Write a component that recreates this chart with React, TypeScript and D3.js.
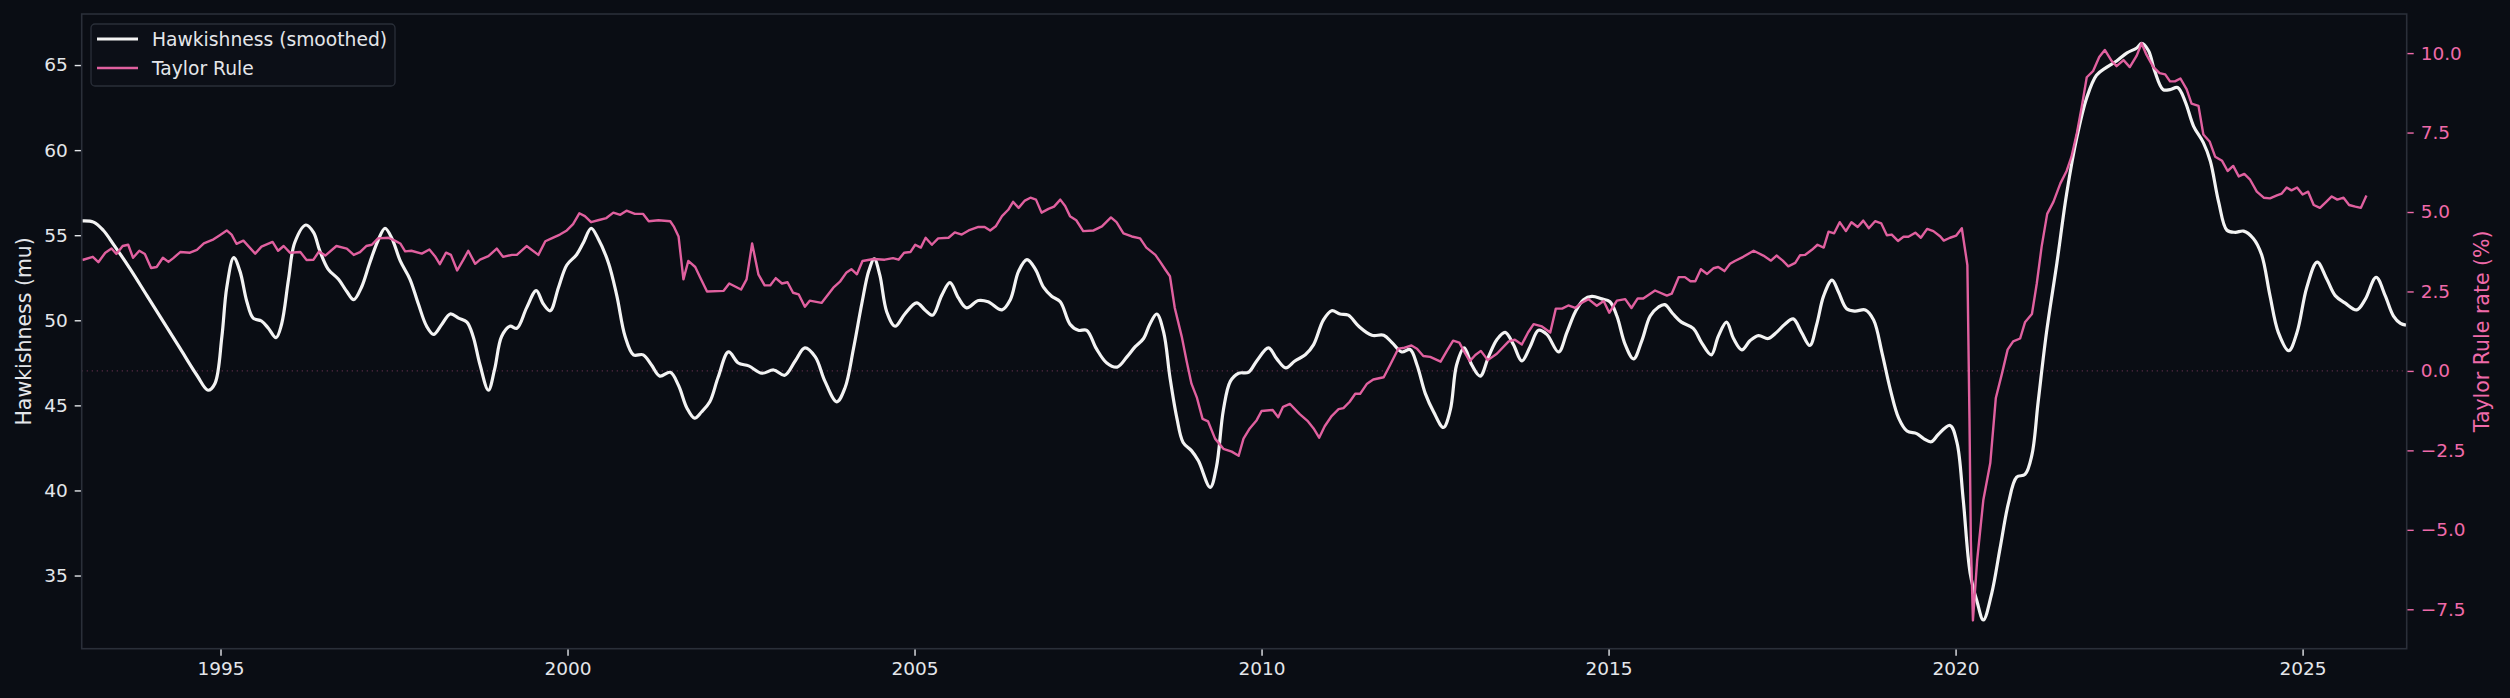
import React, { useRef, useEffect } from 'react';
import * as d3 from 'd3';

// values
const hawkYears = [
    1993.01, 1993.17, 1993.31, 1993.46, 1993.7, 1993.94, 1994.18, 1994.42, 1994.66, 1994.82,
    1994.92, 1995.02, 1995.09, 1995.19, 1995.28, 1995.38, 1995.47, 1995.59, 1995.69, 1995.8,
    1995.88, 1995.98, 1996.07, 1996.23, 1996.34, 1996.43, 1996.55, 1996.7, 1996.82, 1996.92,
    1997.03, 1997.15, 1997.27, 1997.37, 1997.47, 1997.59, 1997.73, 1997.85, 1997.97, 1998.07,
    1998.19, 1998.31, 1998.43, 1998.55, 1998.64, 1998.74, 1998.86, 1998.95, 1999.05, 1999.17,
    1999.27, 1999.41, 1999.55, 1999.65, 1999.75, 1999.87, 1999.99, 2000.13, 2000.23, 2000.34,
    2000.44, 2000.59, 2000.71, 2000.83, 2000.95, 2001.09, 2001.21, 2001.33, 2001.48, 2001.6,
    2001.72, 2001.83, 2001.93, 2002.05, 2002.17, 2002.32, 2002.46, 2002.61, 2002.8, 2002.97,
    2003.13, 2003.28, 2003.42, 2003.57, 2003.71, 2003.88, 2004.0, 2004.12, 2004.24, 2004.34,
    2004.42, 2004.5, 2004.6, 2004.72, 2004.86, 2005.03, 2005.15, 2005.26, 2005.39, 2005.51,
    2005.63, 2005.75, 2005.92, 2006.06, 2006.26, 2006.38, 2006.5, 2006.62, 2006.74, 2006.86,
    2006.98, 2007.1, 2007.24, 2007.36, 2007.48, 2007.62, 2007.77, 2007.92, 2008.06, 2008.18,
    2008.3, 2008.39, 2008.49, 2008.59, 2008.68, 2008.78, 2008.87, 2008.99, 2009.09, 2009.26,
    2009.35, 2009.45, 2009.55, 2009.67, 2009.81, 2009.93, 2010.1, 2010.22, 2010.35, 2010.48,
    2010.63, 2010.75, 2010.89, 2011.01, 2011.13, 2011.25, 2011.4, 2011.59, 2011.76, 2011.88,
    2012.02, 2012.14, 2012.24, 2012.36, 2012.48, 2012.62, 2012.72, 2012.81, 2012.92, 2013.03,
    2013.15, 2013.27, 2013.39, 2013.51, 2013.63, 2013.75, 2013.87, 2013.99, 2014.11, 2014.28,
    2014.4, 2014.52, 2014.64, 2014.76, 2014.9, 2015.02, 2015.12, 2015.24, 2015.36, 2015.48,
    2015.6, 2015.72, 2015.81, 2015.93, 2016.05, 2016.22, 2016.34, 2016.48, 2016.58, 2016.7,
    2016.8, 2016.92, 2017.04, 2017.16, 2017.3, 2017.42, 2017.54, 2017.66, 2017.78, 2017.9,
    2018.0, 2018.1, 2018.22, 2018.31, 2018.43, 2018.55, 2018.7, 2018.82, 2018.94, 2019.06,
    2019.18, 2019.3, 2019.44, 2019.54, 2019.65, 2019.75, 2019.92, 2020.02, 2020.11, 2020.21,
    2020.31, 2020.4, 2020.52, 2020.64, 2020.76, 2020.88, 2021.0, 2021.1, 2021.19, 2021.31,
    2021.46, 2021.6, 2021.75, 2021.89, 2022.03, 2022.18, 2022.32, 2022.47, 2022.61, 2022.68,
    2022.78, 2022.87, 2022.99, 2023.09, 2023.2, 2023.31, 2023.43, 2023.57, 2023.67, 2023.79,
    2023.91, 2024.03, 2024.15, 2024.29, 2024.41, 2024.53, 2024.65, 2024.8, 2024.92, 2025.06,
    2025.21, 2025.35, 2025.47, 2025.61, 2025.78, 2025.9, 2026.06, 2026.19, 2026.31, 2026.41,
    2026.49,
];

const hawkValues = [
    55.84, 55.77, 55.29, 54.45, 53.01, 51.45, 49.89, 48.33, 46.77, 45.89,
    46.29, 49.05, 51.93, 53.68, 52.89, 51.09, 50.13, 49.96, 49.53, 48.98,
    49.77, 52.41, 54.57, 55.6, 55.17, 54.09, 53.01, 52.41, 51.69, 51.21,
    51.93, 53.37, 54.69, 55.41, 54.81, 53.49, 52.41, 50.97, 49.65, 49.17,
    49.77, 50.37, 50.13, 49.89, 49.05, 47.37, 45.89, 47.13, 49.05, 49.65,
    49.53, 50.73, 51.74, 50.97, 50.56, 51.93, 53.25, 53.85, 54.57, 55.41,
    54.81, 53.37, 51.45, 49.05, 47.97, 47.97, 47.37, 46.72, 46.94, 46.17,
    44.85, 44.25, 44.61, 45.21, 46.65, 48.14, 47.49, 47.32, 46.89, 47.08,
    46.77, 47.61, 48.38, 47.85, 46.41, 45.21, 46.05, 48.33, 50.97, 52.89,
    53.61, 52.65, 50.49, 49.65, 50.37, 51.02, 50.61, 50.3, 51.45, 52.21,
    51.33, 50.73, 51.16, 51.09, 50.61, 51.21, 52.89, 53.56, 53.01, 51.93,
    51.4, 51.09, 49.77, 49.41, 49.41, 48.33, 47.49, 47.25, 47.85, 48.45,
    48.93, 49.77, 50.37, 49.29, 46.65, 44.25, 42.82, 42.34, 41.74, 40.18,
    41.38, 44.73, 46.41, 46.89, 46.94, 47.61, 48.38, 47.73, 47.2, 47.61,
    47.97, 48.57, 50.01, 50.56, 50.37, 50.3, 49.65, 49.12, 49.12, 48.69,
    48.14, 48.28, 47.37, 45.69, 44.61, 43.7, 44.73, 47.37, 48.38, 47.37,
    46.72, 47.85, 48.86, 49.29, 48.57, 47.61, 48.45, 49.41, 49.17, 48.14,
    49.29, 50.49, 51.21, 51.4, 51.26, 51.09, 50.25, 48.57, 47.73, 48.81,
    50.25, 50.78, 50.92, 50.37, 49.89, 49.53, 48.69, 47.97, 49.05, 49.89,
    48.93, 48.26, 48.81, 49.1, 48.93, 49.29, 49.77, 50.08, 49.29, 48.52,
    49.77, 51.45, 52.36, 51.69, 50.68, 50.54, 50.61, 50.01, 48.09, 45.93,
    44.25, 43.49, 43.34, 43.05, 42.86, 43.29, 43.82, 42.81, 39.46, 35.14,
    33.46, 32.39, 33.94, 36.58, 39.22, 40.78, 40.94, 42.09, 45.21, 49.29,
    53.37, 57.44, 60.8, 63.08, 64.4, 64.88, 65.24, 65.72, 66.0, 66.27,
    65.84, 64.64, 63.56, 63.56, 63.68, 62.84, 61.4, 60.44, 59.36, 56.96,
    55.29, 55.17, 55.24, 54.81, 53.85, 51.45, 49.29, 48.21, 49.29, 51.93,
    53.42, 52.41, 51.45, 51.02, 50.61, 51.21, 52.53, 51.45, 50.25, 49.82,
    49.72,
];

const taylorYears = [
    1993.01, 1993.16, 1993.24, 1993.34, 1993.43, 1993.5, 1993.59, 1993.67, 1993.74, 1993.83,
    1993.91, 1994.0, 1994.08, 1994.17, 1994.25, 1994.32, 1994.42, 1994.56, 1994.66, 1994.76,
    1994.9, 1994.99, 1995.09, 1995.16, 1995.23, 1995.33, 1995.5, 1995.59, 1995.75, 1995.83,
    1995.91, 1996.0, 1996.15, 1996.24, 1996.34, 1996.42, 1996.51, 1996.67, 1996.82, 1996.92,
    1997.01, 1997.1, 1997.18, 1997.27, 1997.42, 1997.51, 1997.59, 1997.66, 1997.75, 1997.9,
    1998.01, 1998.09, 1998.16, 1998.25, 1998.32, 1998.41, 1998.5, 1998.57, 1998.67, 1998.74,
    1998.86, 1998.98, 1999.07, 1999.2, 1999.27, 1999.41, 1999.58, 1999.68, 1999.77, 1999.89,
    1999.99, 2000.08, 2000.17, 2000.25, 2000.34, 2000.44, 2000.56, 2000.66, 2000.76, 2000.85,
    2000.97, 2001.09, 2001.17, 2001.31, 2001.48, 2001.53, 2001.6, 2001.67, 2001.74, 2001.84,
    2001.91, 2002.01, 2002.25, 2002.33, 2002.5, 2002.58, 2002.66, 2002.75, 2002.84, 2002.92,
    2003.0, 2003.09, 2003.17, 2003.25, 2003.33, 2003.42, 2003.49, 2003.66, 2003.83, 2003.93,
    2004.02, 2004.09, 2004.17, 2004.25, 2004.41, 2004.57, 2004.69, 2004.77, 2004.85, 2004.94,
    2005.01, 2005.09, 2005.16, 2005.25, 2005.34, 2005.49, 2005.58, 2005.68, 2005.78, 2005.92,
    2006.01, 2006.09, 2006.17, 2006.26, 2006.35, 2006.42, 2006.5, 2006.59, 2006.67, 2006.75,
    2006.83, 2006.93, 2007.01, 2007.1, 2007.17, 2007.24, 2007.33, 2007.43, 2007.58, 2007.7,
    2007.83, 2007.91, 2008.01, 2008.13, 2008.25, 2008.34, 2008.47, 2008.54, 2008.61, 2008.68,
    2008.75, 2008.85, 2008.92, 2008.99, 2009.07, 2009.15, 2009.23, 2009.33, 2009.45, 2009.57,
    2009.67, 2009.74, 2009.83, 2009.93, 2010.0, 2010.16, 2010.24, 2010.31, 2010.41, 2010.55,
    2010.67, 2010.75, 2010.83, 2010.91, 2011.01, 2011.11, 2011.18, 2011.27, 2011.35, 2011.42,
    2011.52, 2011.61, 2011.76, 2011.85, 2011.97, 2012.04, 2012.16, 2012.24, 2012.33, 2012.43,
    2012.58, 2012.67, 2012.76, 2012.85, 2012.93, 2013.0, 2013.08, 2013.16, 2013.26, 2013.39,
    2013.56, 2013.65, 2013.75, 2013.84, 2013.92, 2014.04, 2014.16, 2014.24, 2014.33, 2014.42,
    2014.52, 2014.61, 2014.71, 2014.83, 2014.93, 2015.01, 2015.12, 2015.24, 2015.33, 2015.42,
    2015.5, 2015.67, 2015.84, 2015.91, 2016.01, 2016.1, 2016.18, 2016.25, 2016.33, 2016.42,
    2016.51, 2016.58, 2016.67, 2016.75, 2016.82, 2016.94, 2017.09, 2017.23, 2017.34, 2017.42,
    2017.51, 2017.59, 2017.69, 2017.76, 2017.83, 2017.93, 2018.01, 2018.1, 2018.17, 2018.25,
    2018.33, 2018.42, 2018.5, 2018.59, 2018.67, 2018.75, 2018.84, 2018.93, 2019.01, 2019.08,
    2019.17, 2019.25, 2019.32, 2019.42, 2019.5, 2019.59, 2019.68, 2019.78, 2019.83, 2019.92,
    2020.01, 2020.09, 2020.17, 2020.2, 2020.22, 2020.25, 2020.31, 2020.4, 2020.5, 2020.58,
    2020.67, 2020.75, 2020.83, 2020.93, 2021.0, 2021.1, 2021.17, 2021.24, 2021.32, 2021.41,
    2021.51, 2021.6, 2021.67, 2021.75, 2021.82, 2021.89, 2021.98, 2022.07, 2022.15, 2022.25,
    2022.32, 2022.42, 2022.51, 2022.61, 2022.68, 2022.75, 2022.85, 2022.94, 2023.02, 2023.09,
    2023.16, 2023.24, 2023.33, 2023.4, 2023.5, 2023.57, 2023.66, 2023.74, 2023.84, 2023.92,
    2024.0, 2024.08, 2024.16, 2024.24, 2024.34, 2024.44, 2024.53, 2024.63, 2024.7, 2024.77,
    2024.84, 2024.92, 2025.0, 2025.08, 2025.16, 2025.25, 2025.34, 2025.42, 2025.5, 2025.59,
    2025.67, 2025.76, 2025.84, 2025.92,
];

const taylorValues = [
    3.49, 3.59, 3.42, 3.72, 3.85, 3.68, 3.93, 3.97, 3.56, 3.78,
    3.68, 3.24, 3.27, 3.56, 3.43, 3.55, 3.74, 3.72, 3.81, 4.01,
    4.14, 4.27, 4.42, 4.29, 4.0, 4.1, 3.69, 3.91, 4.06, 3.78,
    3.93, 3.72, 3.74, 3.49, 3.5, 3.76, 3.63, 3.93, 3.85, 3.65,
    3.74, 3.93, 3.97, 4.17, 4.19, 4.1, 4.01, 3.76, 3.78, 3.69,
    3.82, 3.61, 3.36, 3.72, 3.65, 3.16, 3.5, 3.78, 3.37, 3.5,
    3.61, 3.85, 3.59, 3.65, 3.65, 3.93, 3.65, 4.08, 4.17, 4.29,
    4.42, 4.62, 4.96, 4.87, 4.68, 4.74, 4.81, 4.98, 4.91, 5.04,
    4.94, 4.94, 4.71, 4.74, 4.71, 4.55, 4.23, 2.88, 3.46, 3.27,
    2.95, 2.5, 2.52, 2.75, 2.56, 2.88, 4.01, 3.04, 2.69, 2.69,
    2.92, 2.75, 2.79, 2.46, 2.41, 2.02, 2.21, 2.14, 2.62, 2.82,
    3.1, 3.2, 3.04, 3.46, 3.52, 3.5, 3.55, 3.5, 3.72, 3.74,
    3.97, 3.88, 4.19, 3.97, 4.17, 4.19, 4.36, 4.29, 4.42, 4.53,
    4.53, 4.42, 4.55, 4.87, 5.07, 5.32, 5.13, 5.36, 5.45, 5.39,
    4.98, 5.1, 5.17, 5.39, 5.19, 4.87, 4.74, 4.4, 4.42, 4.55,
    4.83, 4.68, 4.33, 4.23, 4.17, 3.88, 3.65, 3.43, 3.2, 2.98,
    1.98, 1.08, 0.31, -0.4, -0.85, -1.51, -1.59, -2.13, -2.45, -2.54,
    -2.67, -2.13, -1.81, -1.55, -1.26, -1.23, -1.46, -1.13, -1.04, -1.36,
    -1.59, -1.81, -2.1, -1.74, -1.42, -1.2, -1.17, -0.97, -0.72, -0.72,
    -0.4, -0.27, -0.2, 0.18, 0.7, 0.72, 0.8, 0.7, 0.47, 0.44,
    0.29, 0.63, 0.95, 0.89, 0.57, 0.31, 0.5, 0.63, 0.34, 0.54,
    0.93, 0.98, 0.83, 1.21, 1.47, 1.4, 1.21, 1.96, 1.96, 2.06,
    1.98, 2.14, 2.26, 2.05, 2.2, 1.83, 2.21, 2.26, 1.98, 2.28,
    2.28, 2.53, 2.37, 2.43, 2.95, 2.95, 2.82, 2.82, 3.2, 3.05,
    3.23, 3.27, 3.14, 3.37, 3.46, 3.59, 3.78, 3.63, 3.47, 3.63,
    3.47, 3.29, 3.4, 3.64, 3.65, 3.81, 3.97, 3.88, 4.38, 4.33,
    4.68, 4.4, 4.68, 4.53, 4.73, 4.49, 4.71, 4.64, 4.27, 4.29,
    4.09, 4.22, 4.22, 4.35, 4.19, 4.47, 4.4, 4.23, 4.1, 4.19,
    4.26, 4.49, 3.33, -1.49, -5.34, -7.85, -5.98, -4.06, -2.9, -0.85,
    -0.07, 0.67, 0.93, 1.02, 1.53, 1.79, 2.75, 3.91, 4.94, 5.32,
    5.9, 6.29, 6.74, 7.51, 8.34, 9.24, 9.43, 9.88, 10.1, 9.75,
    9.59, 9.78, 9.56, 9.92, 10.31, 9.95, 9.56, 9.37, 9.33, 9.11,
    9.11, 9.2, 8.86, 8.41, 8.34, 7.44, 7.22, 6.74, 6.61, 6.29,
    6.45, 6.12, 6.2, 6.03, 5.64, 5.45, 5.43, 5.52, 5.58, 5.77,
    5.68, 5.77, 5.55, 5.64, 5.22, 5.13, 5.32, 5.49, 5.39, 5.45,
    5.22, 5.17, 5.13, 5.52,
];

const xTicks = [1995, 2000, 2005, 2010, 2015, 2020, 2025];
const leftTicks = [35, 40, 45, 50, 55, 60, 65];
const rightTicks = [-7.5, -5, -2.5, 0, 2.5, 5, 7.5, 10];

const WIDTH = 2510;
const HEIGHT = 698;

const BG = '#0a0d14';
const SPINE = '#2a2f39';
const TEXT = '#e4e6ea';
const PINK = '#e0609f';
const PINK_TEXT = '#ef6aa9';
const FONT = '"DejaVu Sans", sans-serif';

const TaylorChart: React.FC = () => {
    const svgRef = useRef<SVGSVGElement | null>(null);

    useEffect(() => {
        if (!svgRef.current) return;
        const svg = d3.select(svgRef.current);
        svg.selectAll('*').remove();

        const margin = { top: 14, right: 103.3, bottom: 49.3, left: 81.7 };
        const innerWidth = WIDTH - margin.left - margin.right;
        const innerHeight = HEIGHT - margin.top - margin.bottom;

        const x = d3.scaleLinear().domain([1993.0, 2026.5]).range([0, innerWidth]);
        const yLeft = d3.scaleLinear().domain([30.7, 68.0]).range([innerHeight, 0]);
        const yRight = d3.scaleLinear().domain([-8.74, 11.23]).range([innerHeight, 0]);

        svg.append('rect')
            .attr('width', WIDTH)
            .attr('height', HEIGHT)
            .attr('fill', BG);

        const g = svg
            .append('g')
            .attr('transform', `translate(${margin.left},${margin.top})`);

        g.append('defs')
            .append('clipPath')
            .attr('id', 'plot-clip')
            .append('rect')
            .attr('width', innerWidth)
            .attr('height', innerHeight);

        // zero line of the Taylor axis
        g.append('line')
            .attr('x1', 0)
            .attr('x2', innerWidth)
            .attr('y1', yRight(0))
            .attr('y2', yRight(0))
            .attr('stroke', PINK)
            .attr('stroke-opacity', 0.35)
            .attr('stroke-width', 1.3)
            .attr('stroke-dasharray', '1.3 3.7');

        const plot = g.append('g').attr('clip-path', 'url(#plot-clip)');

        const hawkData = hawkYears.map((yr, i) => ({ yr, v: hawkValues[i] }));
        const taylorData = taylorYears.map((yr, i) => ({ yr, v: taylorValues[i] }));

        const hawkLine = d3
            .line<{ yr: number; v: number }>()
            .x((d) => x(d.yr))
            .y((d) => yLeft(d.v))
            .curve(d3.curveCatmullRom.alpha(0.5));

        const taylorLine = d3
            .line<{ yr: number; v: number }>()
            .x((d) => x(d.yr))
            .y((d) => yRight(d.v));

        plot.append('path')
            .datum(hawkData)
            .attr('fill', 'none')
            .attr('stroke', '#f3f3f3')
            .attr('stroke-width', 3.2)
            .attr('stroke-linejoin', 'round')
            .attr('d', hawkLine);

        plot.append('path')
            .datum(taylorData)
            .attr('fill', 'none')
            .attr('stroke', PINK)
            .attr('stroke-width', 2.4)
            .attr('stroke-linejoin', 'round')
            .attr('d', taylorLine);

        // axes
        const styleAxis = (
            sel: d3.Selection<SVGGElement, unknown, null, undefined>,
            tickColor: string,
            textColor: string,
        ) => {
            sel.select('.domain').remove();
            sel.selectAll('.tick line')
                .attr('stroke', tickColor)
                .attr('stroke-width', 1.4);
            sel.selectAll('.tick text')
                .attr('fill', textColor)
                .style('font-family', FONT)
                .style('font-size', '18.5px');
        };

        const bottomAxis = g
            .append('g')
            .attr('transform', `translate(0,${innerHeight})`)
            .call(
                d3
                    .axisBottom(x)
                    .tickValues(xTicks)
                    .tickFormat(d3.format('d'))
                    .tickSize(7)
                    .tickPadding(6),
            );
        styleAxis(bottomAxis, TEXT, TEXT);

        const leftAxis = g.append('g').call(
            d3
                .axisLeft(yLeft)
                .tickValues(leftTicks)
                .tickFormat(d3.format('d'))
                .tickSize(7)
                .tickPadding(7),
        );
        styleAxis(leftAxis, TEXT, TEXT);

        const rightAxis = g
            .append('g')
            .attr('transform', `translate(${innerWidth},0)`)
            .call(
                d3
                    .axisRight(yRight)
                    .tickValues(rightTicks)
                    .tickFormat(d3.format('.1f'))
                    .tickSize(7)
                    .tickPadding(7),
            );
        styleAxis(rightAxis, PINK_TEXT, PINK_TEXT);

        // frame
        g.append('rect')
            .attr('width', innerWidth)
            .attr('height', innerHeight)
            .attr('fill', 'none')
            .attr('stroke', SPINE)
            .attr('stroke-width', 1.6);

        // axis titles
        svg.append('text')
            .attr('transform', `translate(24,${margin.top + innerHeight / 2}) rotate(-90)`)
            .attr('text-anchor', 'middle')
            .attr('dominant-baseline', 'central')
            .attr('fill', TEXT)
            .style('font-family', FONT)
            .style('font-size', '20.5px')
            .text('Hawkishness (mu)');

        svg.append('text')
            .attr('transform', `translate(2482,${margin.top + innerHeight / 2}) rotate(-90)`)
            .attr('text-anchor', 'middle')
            .attr('dominant-baseline', 'central')
            .attr('fill', PINK_TEXT)
            .style('font-family', FONT)
            .style('font-size', '20.5px')
            .text('Taylor Rule rate (%)');

        // legend
        const legend = svg.append('g').attr('transform', 'translate(91,24)');
        legend
            .append('rect')
            .attr('width', 304)
            .attr('height', 62)
            .attr('rx', 4)
            .attr('fill', '#0c0f17')
            .attr('stroke', SPINE)
            .attr('stroke-width', 1.3);

        const items = [
            { label: 'Hawkishness (smoothed)', color: '#f3f3f3', width: 3.2 },
            { label: 'Taylor Rule', color: PINK, width: 2.4 },
        ];
        items.forEach((item, i) => {
            const cy = 15 + i * 29;
            legend
                .append('line')
                .attr('x1', 6)
                .attr('x2', 47)
                .attr('y1', cy)
                .attr('y2', cy)
                .attr('stroke', item.color)
                .attr('stroke-width', item.width);
            legend
                .append('text')
                .attr('x', 61)
                .attr('y', cy)
                .attr('dominant-baseline', 'central')
                .attr('fill', TEXT)
                .style('font-family', FONT)
                .style('font-size', '18.7px')
                .text(item.label);
        });
    }, []);

    return (
        <svg
            ref={svgRef}
            width={WIDTH}
            height={HEIGHT}
            style={{ display: 'block' }}
        ></svg>
    );
};

export default function App() {
    useEffect(() => {
        document.body.style.margin = '0';
        document.body.style.background = BG;
    }, []);
    return <TaylorChart />;
}
